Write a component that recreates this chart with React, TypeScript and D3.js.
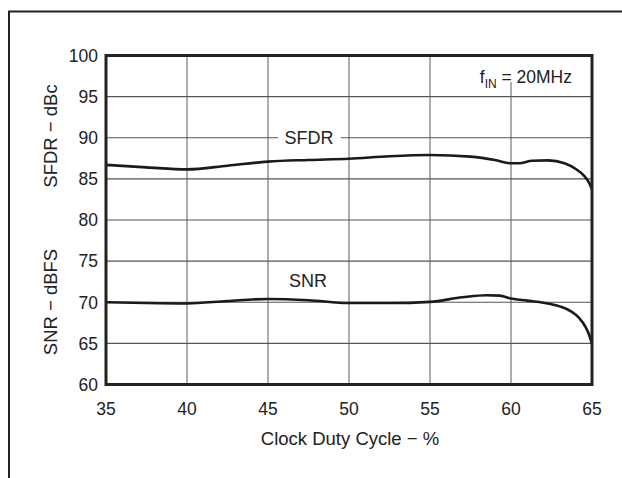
import React from "react";
import * as d3 from "d3";

const xTicks = [35, 40, 45, 50, 55, 60, 65];
const yTicks = [60, 65, 70, 75, 80, 85, 90, 95, 100];

const sfdrX = [35, 37.5, 40, 42.5, 45, 47.5, 50, 52.5, 55, 57.5, 59, 60, 60.5, 61.3, 62.3, 63.3, 64.0, 64.5, 64.8, 65];
const sfdrY = [86.7, 86.4, 86.15, 86.6, 87.1, 87.3, 87.45, 87.75, 87.9, 87.7, 87.3, 86.9, 86.9, 87.2, 87.25, 86.9, 86.2, 85.4, 84.6, 83.7];

const snrX = [35, 37.5, 40, 42.5, 45, 47.5, 50, 52.5, 55, 57, 58.5, 59.3, 60, 61, 62, 63, 63.7, 64.2, 64.6, 64.85, 65];
const snrY = [70.0, 69.9, 69.85, 70.15, 70.4, 70.25, 69.9, 69.9, 70.05, 70.6, 70.85, 70.8, 70.45, 70.2, 69.95, 69.5, 68.9, 68.1, 67.0, 65.9, 64.9];

const W = 622;
const H = 478;
const L = 106, R = 592, T = 55.5, B = 384.5;
const FONT = "'Liberation Sans', Arial, Helvetica, sans-serif";

export default function App() {
  const x = d3.scaleLinear().domain([35, 65]).range([L, R]);
  const y = d3.scaleLinear().domain([60, 100]).range([B, T]);
  const line = d3
    .line<[number, number]>()
    .x((d) => x(d[0]))
    .y((d) => y(d[1]))
    .curve(d3.curveMonotoneX);
  const sfdr = sfdrX.map((v, i) => [v, sfdrY[i]] as [number, number]);
  const snr = snrX.map((v, i) => [v, snrY[i]] as [number, number]);

  return (
    <svg width={W} height={H} style={{ position: "absolute", left: 0, top: 0, background: "#fff" }} fontFamily={FONT}>
      <rect x={0} y={0} width={W} height={H} fill="#fff" />
      {/* outer frame */}
      <path d={`M9,${H + 5} L9,11.5 L${W + 5},11.5`} fill="none" stroke="#222" strokeWidth={2} />
      {/* grid */}
      {xTicks.slice(1, -1).map((t) => (
        <line key={"gx" + t} x1={x(t)} x2={x(t)} y1={T} y2={B} stroke="#6a6a6a" strokeWidth={1.1} />
      ))}
      {yTicks.slice(1, -1).map((t) => (
        <line key={"gy" + t} x1={L} x2={R} y1={y(t)} y2={y(t)} stroke="#555" strokeWidth={1.1} />
      ))}
      {/* label backgrounds */}
      <rect x={278} y={127} width={63} height={22} fill="#fff" />
      <rect x={473} y={57} width={104} height={25} fill="#fff" />
      {/* curves */}
      <path d={line(sfdr) || ""} fill="none" stroke="#1a1a1a" strokeWidth={2.6} />
      <path d={line(snr) || ""} fill="none" stroke="#1a1a1a" strokeWidth={2.6} />
      {/* plot border */}
      <rect x={L} y={T} width={R - L} height={B - T} fill="none" stroke="#222" strokeWidth={3} />
      {/* tick labels */}
      {xTicks.map((t) => (
        <text key={"tx" + t} x={x(t)} y={414.5} textAnchor="middle" fontSize={17.5} fill="#222">
          {t}
        </text>
      ))}
      {yTicks.map((t) => (
        <text key={"ty" + t} x={98} y={y(t)} dy="0.36em" textAnchor="end" fontSize={17.5} fill="#222">
          {t}
        </text>
      ))}
      {/* axis titles */}
      <text x={350} y={445} textAnchor="middle" fontSize={18.5} fill="#222">
        Clock Duty Cycle − %
      </text>
      <text transform={`translate(56.5,136) rotate(-90)`} textAnchor="middle" fontSize={18.5} fill="#222">
        SFDR − dBc
      </text>
      <text transform={`translate(56.5,302) rotate(-90)`} textAnchor="middle" fontSize={18.5} fill="#222">
        SNR − dBFS
      </text>
      {/* curve labels */}
      <text x={309} y={y(90)} dy="0.36em" textAnchor="middle" fontSize={18} fill="#222">
        SFDR
      </text>
      <text x={308} y={287} textAnchor="middle" fontSize={18} fill="#222">
        SNR
      </text>
      <text x={572} y={83} textAnchor="end" fontSize={17.5} fill="#222">
        <tspan>f</tspan>
        <tspan fontSize={12} dy={5}>IN</tspan>
        <tspan dy={-5}> = 20MHz</tspan>
      </text>
    </svg>
  );
}
